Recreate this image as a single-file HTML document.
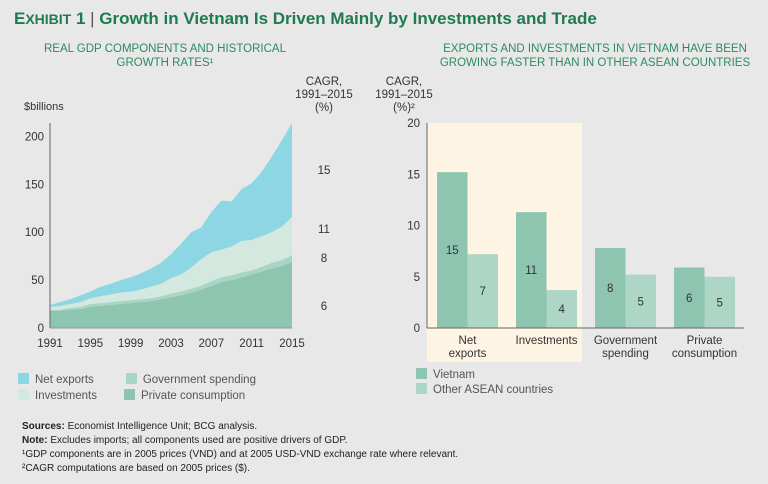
<!DOCTYPE html>
<html><head><meta charset="utf-8"><style>
body{margin:0;background:#e8e8e9;font-family:"Liberation Sans",sans-serif}
#wrap{position:relative;width:768px;height:484px;overflow:hidden;background:#e8e8e9}
.t{position:absolute;white-space:nowrap}
</style></head><body>
<div id="wrap">
<div class="t" style="left:14px;top:9px;font-size:17px;font-weight:bold;color:#1f7a52">E<span style="font-size:14px">XHIBIT</span> 1 <span style="font-weight:normal;color:#555">|</span> Growth in Vietnam Is Driven Mainly by Investments and Trade</div>
<div class="t" style="left:30px;top:42px;width:270px;text-align:center;font-size:11.5px;color:#2e8a60;line-height:14px">REAL GDP COMPONENTS AND HISTORICAL<br>GROWTH RATES¹</div>
<div class="t" style="left:420px;top:42px;width:350px;text-align:center;font-size:11.5px;color:#2e8a60;line-height:14px">EXPORTS AND INVESTMENTS IN VIETNAM HAVE BEEN<br>GROWING FASTER THAN IN OTHER ASEAN COUNTRIES</div>
<div class="t" style="left:288px;top:76px;width:72px;text-align:center;font-size:11.5px;color:#333;line-height:13px">CAGR,<br>1991–2015<br>(%)</div>
<div class="t" style="left:368px;top:76px;width:72px;text-align:center;font-size:11.5px;color:#333;line-height:13px">CAGR,<br>1991–2015<br>(%)²</div>
<div class="t" style="left:24px;top:101px;font-size:11px;color:#333">$billions</div>
<svg id="chart" width="768" height="484" style="position:absolute;left:0;top:0"></svg>
<div class="t" style="left:18px;top:372px;font-size:11.5px;color:#555;line-height:16px">
<div><span style="display:inline-block;width:11px;height:11px;background:#8dd6e3;vertical-align:-1px;margin-right:6px"></span>Net exports<span style="display:inline-block;width:32px"></span><span style="display:inline-block;width:11px;height:11px;background:#a9d5c5;vertical-align:-1px;margin-right:6px"></span>Government spending</div>
<div><span style="display:inline-block;width:11px;height:11px;background:#d3e8df;vertical-align:-1px;margin-right:6px"></span>Investments<span style="display:inline-block;width:27px"></span><span style="display:inline-block;width:11px;height:11px;background:#8dc5b1;vertical-align:-1px;margin-right:6px"></span>Private consumption</div></div>
<div class="t" style="left:416px;top:368px;font-size:11.5px;color:#555;line-height:15px">
<div><span style="display:inline-block;width:11px;height:11px;background:#8dc5b1;vertical-align:-1px;margin-right:6px"></span>Vietnam</div>
<div><span style="display:inline-block;width:11px;height:11px;background:#add6c7;vertical-align:-1px;margin-right:6px"></span>Other ASEAN countries</div></div>
<div class="t" style="left:22px;top:420px;font-size:10px;color:#222;line-height:14px">
<div><b>Sources:</b> Economist Intelligence Unit; BCG analysis.</div>
<div><b>Note:</b> Excludes imports; all components used are positive drivers of GDP.</div>
<div>¹GDP components are in 2005 prices (VND) and at 2005 USD-VND exchange rate where relevant.</div>
<div>²CAGR computations are based on 2005 prices ($).</div></div>
</div>
<script>
const years=[1991,1992,1993,1994,1995,1996,1997,1998,1999,2000,2001,2002,2003,2004,2005,2006,2007,2008,2009,2010,2011,2012,2013,2014,2015];
const privateCons=[18,18,19,20,22,23,24,25,26,27,28,30,32,34,37,40,44,48,50,53,56,59,62,65,69];
const govSpending=[1,1,2,2,3,3,3,3,3,3,3,3,4,4,4,4,5,5,5,5,4,5,6,6,7];
const investments=[3,4,4,5,6,7,8,9,9,10,12,13,16,18,22,28,30,29,30,33,32,32,32,35,40];
const netExports=[2,4,5,7,7,10,11,13,15,17,19,22,25,32,37,33,42,51,47,54,59,67,79,90,98];
const cagrLabels=["15","11","8","6"];
const yTicksL=[0,50,100,150,200];
const xTickYears=[1991,1995,1999,2003,2007,2011,2015];
const categories=["Net|exports","Investments","Government|spending","Private|consumption"];
const vietnam=[15.2,11.3,7.8,5.9];
const asean=[7.2,3.7,5.2,5.0];
const vietnamLabels=["15","11","8","6"];
const aseanLabels=["7","4","5","5"];
const yTicksR=[0,5,10,15,20];

const svg=document.getElementById('chart');const NS='http://www.w3.org/2000/svg';
function el(t,a,p){const e=document.createElementNS(NS,t);for(const k in a)e.setAttribute(k,a[k]);(p||svg).appendChild(e);return e;}
function txt(x,y,s,a){const e=el('text',Object.assign({x:x,y:y,'font-size':11.5,fill:'#333','font-family':'Liberation Sans, sans-serif'},a||{}));e.textContent=s;return e;}
// left chart
const xL=y=>50+(y-1991)*(242/24), yL=v=>328-v*0.958;
const layers=[[privateCons,'#8dc5b1','area-private-consumption'],[govSpending,'#a9d5c5','area-government-spending'],[investments,'#d3e8df','area-investments'],[netExports,'#8dd6e3','area-net-exports']];
let base=years.map(()=>0);
layers.forEach(([arr,col,name])=>{
  const top=base.map((b,i)=>b+arr[i]);
  let d='M'+years.map((y,i)=>xL(y)+','+yL(top[i])).join('L');
  for(let i=years.length-1;i>=0;i--)d+='L'+xL(years[i])+','+yL(base[i]);
  const p=el('path',{d:d+'Z',fill:col});
  
  
  base=top;
});
const ax=el('line',{x1:50,y1:yL(0),x2:50,y2:123,stroke:'#666','stroke-width':1});


el('line',{x1:50,y1:yL(0),x2:292,y2:yL(0),stroke:'#999','stroke-width':1});
yTicksL.forEach(v=>{const t=txt(44,yL(v)+4,String(v),{'text-anchor':'end'});});
xTickYears.forEach(y=>{const t=txt(xL(y),yL(0)+19,String(y),{'text-anchor':'middle'});});
const cagrY=[174,233,262,310];
cagrLabels.forEach((s,i)=>{const t=txt(324,cagrY[i],s,{'text-anchor':'middle'});});
// right chart
const x0=427, yR=v=>328-v*10.25;
const hl=el('rect',{x:x0,y:yR(20),width:155,height:362-yR(20),fill:'#fdf4e3'});


const bw=30.5, gStart=[437,516,595,674];
categories.forEach((c,i)=>{
  const gx=x0+10+i*79;
  const b1=el('rect',{x:gx,y:yR(vietnam[i]),width:bw,height:yR(0)-yR(vietnam[i]),fill:'#8dc5b1'});
  
  
  const b2=el('rect',{x:gx+bw,y:yR(asean[i]),width:bw,height:yR(0)-yR(asean[i]),fill:'#add6c7'});
  
  
  txt(gx+bw/2,(yR(vietnam[i])+yR(0))/2+4,vietnamLabels[i],{'text-anchor':'middle'});
  txt(gx+bw*1.5,(yR(asean[i])+yR(0))/2+4,aseanLabels[i],{'text-anchor':'middle'});
  c.split('|').forEach((line,j)=>{const t=txt(gx+bw,yR(0)+16+j*13,line,{'text-anchor':'middle'});});
});
el('line',{x1:x0,y1:yR(0),x2:x0,y2:yR(20),stroke:'#666'});
el('line',{x1:x0,y1:yR(0),x2:744,y2:yR(0),stroke:'#666'});
yTicksR.forEach(v=>{const t=txt(420,yR(v)+4,String(v),{'text-anchor':'end'});});
</script>
</body></html>
